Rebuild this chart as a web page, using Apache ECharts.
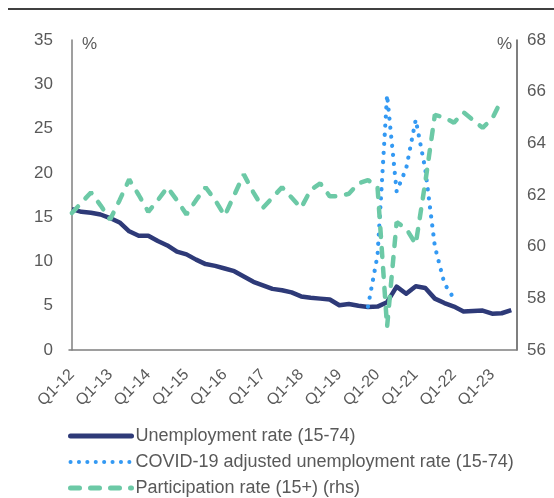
<!DOCTYPE html>
<html>
<head>
<meta charset="utf-8">
<title>Unemployment and participation rates</title>
<script src="https://cdn.jsdelivr.net/npm/echarts@6/dist/echarts.min.js"></script>
<style>
  html, body { margin: 0; padding: 0; background: #fff; }
  #main { width: 554px; height: 498px; }
</style>
</head>
<body>
<div id="main"></div>
<script>
// quarters on the x axis
var quarters = [
  'Q1-12','Q2-12','Q3-12','Q4-12','Q1-13','Q2-13','Q3-13','Q4-13',
  'Q1-14','Q2-14','Q3-14','Q4-14','Q1-15','Q2-15','Q3-15','Q4-15',
  'Q1-16','Q2-16','Q3-16','Q4-16','Q1-17','Q2-17','Q3-17','Q4-17',
  'Q1-18','Q2-18','Q3-18','Q4-18','Q1-19','Q2-19','Q3-19','Q4-19',
  'Q1-20','Q2-20','Q3-20','Q4-20','Q1-21','Q2-21','Q3-21','Q4-21',
  'Q1-22','Q2-22','Q3-22','Q4-22','Q1-23','Q2-23','Q3-23'
];
// which quarters get a label
var labelIdx = [0, 4, 8, 12, 16, 20, 24, 28, 32, 36, 40, 44];

// unemployment rate (15-74), %
var unemp = [
  15.9, 15.6, 15.5, 15.3, 14.9, 14.4, 13.4, 12.9,
  12.9, 12.3, 11.8, 11.1, 10.8, 10.2, 9.7, 9.5,
  9.2, 8.9, 8.3, 7.7, 7.3, 6.9, 6.75, 6.5,
  6.05, 5.9, 5.8, 5.7, 5.05, 5.2, 5.0, 4.85,
  4.9, 5.4, 7.15, 6.35, 7.2, 7.0, 5.8, 5.3,
  4.9, 4.35, 4.4, 4.45, 4.1, 4.15, 4.5
];

// COVID-19 adjusted unemployment rate (15-74), %  (only Q4-19 .. Q1-22)
var covid = [
  null, null, null, null, null, null, null, null,
  null, null, null, null, null, null, null, null,
  null, null, null, null, null, null, null, null,
  null, null, null, null, null, null, null, 4.9,
  10.7, 28.8, 17.9, 20.5, 26.0, 20.4, 11.7, 7.5,
  5.8
];

// participation rate (15+), %, right axis
var partic = [
  61.3, 61.7, 62.1, 61.6, 61.05, 61.8, 62.6, 62.0,
  61.35, 61.8, 62.3, 61.8, 61.25, 61.8, 62.3, 61.8,
  61.2, 62.0, 62.8, 62.1, 61.5, 61.9, 62.3, 61.9,
  61.5, 62.2, 62.45, 61.95, 61.95, 62.05, 62.45, 62.58,
  62.3, 56.9, 60.95, 60.7, 60.1, 62.5, 65.1, 65.0,
  64.8, 65.2, 64.9, 64.6, 64.95, 65.7
];

// [index, value] pairs for the value type x axis
function pairs(arr) {
  var out = [];
  for (var i = 0; i < arr.length; i++) {
    if (arr[i] != null) out.push([i, arr[i]]);
  }
  return out;
}

var font = "'Liberation Sans', Arial, sans-serif";
var grey = '#595959';
var navy = '#2E3A78';
var blue = '#3399F3';
var green = '#6CC9A6';

var chart = echarts.init(document.getElementById('main'));

var option = {
  animation: false,
  textStyle: { fontFamily: font },
  grid: { left: 69, right: 37, top: 40, bottom: 148 },
  graphic: [
    {
      type: 'line',
      shape: { x1: 8, y1: 9, x2: 554, y2: 9 },
      style: { stroke: '#000', lineWidth: 1.5 }
    },
    {
      type: 'text', left: 82, top: 36,
      style: { text: '%', fill: grey, font: '17px ' + font }
    },
    {
      type: 'text', left: 497, top: 36,
      style: { text: '%', fill: grey, font: '17px ' + font }
    }
  ],
  legend: {
    orient: 'vertical',
    left: 68,
    top: 427,
    padding: 0,
    itemWidth: 61,
    itemHeight: 14,
    itemGap: 8,
    itemStyle: { opacity: 0 },
    textStyle: { color: grey, fontSize: 18, fontFamily: font, padding: [0, 0, 0, -1] },
    data: [
      {
        name: 'Unemployment rate (15-74)',
        lineStyle: { color: navy, width: 5, cap: 'round' }
      },
      {
        name: 'COVID-19 adjusted unemployment rate (15-74)',
        lineStyle: { color: blue, width: 4, type: [0.1, 8.3], cap: 'round' }
      },
      {
        name: 'Participation rate (15+) (rhs)',
        lineStyle: { color: green, width: 5, type: [9, 11], cap: 'round' }
      }
    ]
  },
  xAxis: {
    type: 'value',
    min: -0.3,
    max: 46.6,
    axisLine: { show: true, lineStyle: { color: '#7f7f7f', width: 1.5 } },
    axisTick: { show: false },
    splitLine: { show: false },
    axisLabel: {
      customValues: labelIdx,
      rotate: 45,
      margin: 22,
      color: grey,
      fontSize: 16,
      fontFamily: font,
      formatter: function (v) { return quarters[v]; }
    }
  },
  yAxis: [
    {
      type: 'value',
      min: 0, max: 35, interval: 5,
      axisLine: { show: true, lineStyle: { color: '#7f7f7f', width: 1.5 } },
      axisTick: { show: false },
      splitLine: { show: false },
      axisLabel: { color: grey, fontSize: 17, margin: 16, fontFamily: font }
    },
    {
      type: 'value',
      min: 56, max: 68, interval: 2,
      position: 'right',
      axisLine: { show: true, lineStyle: { color: '#555', width: 1.5 } },
      axisTick: { show: false },
      splitLine: { show: false },
      axisLabel: { color: grey, fontSize: 17, margin: 10, fontFamily: font }
    }
  ],
  series: [
    {
      name: 'Unemployment rate (15-74)',
      type: 'line',
      yAxisIndex: 0,
      symbol: 'none',
      data: pairs(unemp),
      lineStyle: { color: navy, width: 4.5, join: 'round' },
      itemStyle: { color: navy }
    },
    {
      name: 'COVID-19 adjusted unemployment rate (15-74)',
      type: 'line',
      yAxisIndex: 0,
      symbol: 'none',
      data: pairs(covid),
      lineStyle: { color: blue, width: 4.2, type: [0.1, 9], cap: 'round' },
      itemStyle: { color: blue }
    },
    {
      name: 'Participation rate (15+) (rhs)',
      type: 'line',
      yAxisIndex: 1,
      symbol: 'none',
      data: pairs(partic),
      lineStyle: { color: green, width: 4.5, type: [9, 11], cap: 'round' },
      itemStyle: { color: green }
    }
  ]
};

chart.setOption(option);
</script>
</body>
</html>
